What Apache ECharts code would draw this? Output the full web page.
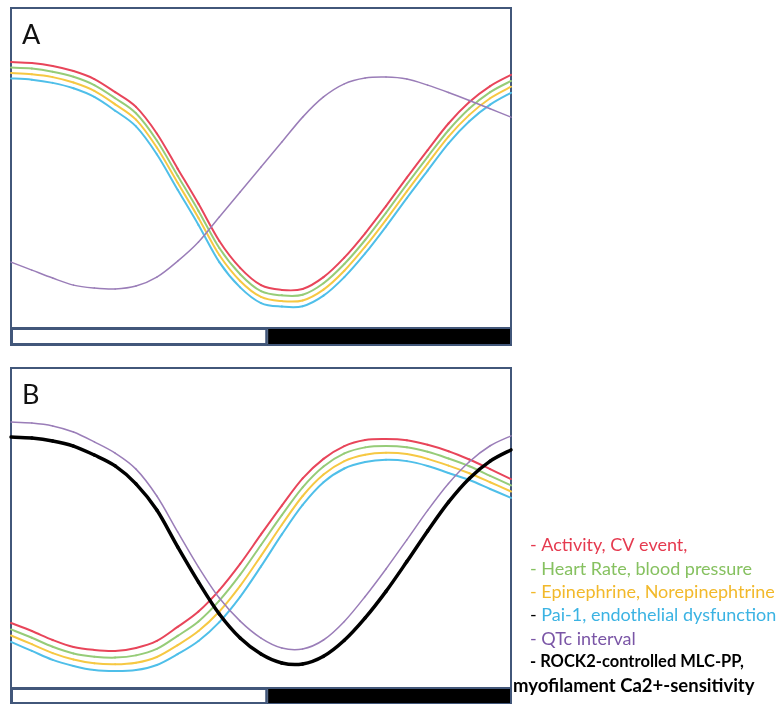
<!DOCTYPE html>
<html>
<head>
<meta charset="utf-8">
<script src="https://cdn.jsdelivr.net/npm/echarts@6/dist/echarts.min.js"></script>
<style>
html,body{margin:0;padding:0;background:#fff;}
#chart{width:780px;height:704px;}
</style>
</head>
<body>
<div id="chart"></div>
<script>
// Time of day (hours) sampled along the x axis
var hours = [0,1,2,3,4,5,6,7,8,9,10,11,12,13,14,15,16,17,18,19,20,21,22,23,24];

// Light/dark bar (hours)
var dayLength = 12.3;
var nightLength = 11.7;

// Panel A (relative level 0-100)
var aActivity    = [83.1,82.8,81.9,80.3,77.8,73.7,69.1,60.8,49.8,38.8,27.2,18.8,13.4,11.9,12.2,15.9,22.0,29.6,38.1,47.0,55.6,63.9,70.6,75.6,79.1];
var aHeartRate   = [81.4,81.1,80.1,78.5,75.9,71.8,67.1,58.6,47.6,36.6,25.0,16.8,11.5,10.2,10.4,14.0,20.0,27.5,36.0,44.9,53.5,61.8,68.6,73.7,77.2];
var aEpinephrine = [79.7,79.3,78.4,76.7,74.1,69.9,65.1,56.4,45.4,34.4,22.8,14.7,9.7,8.4,8.6,12.0,17.9,25.4,33.8,42.7,51.4,59.8,66.6,71.8,75.4];
var aPai1        = [78.0,77.6,76.6,74.9,72.2,67.9,63.0,54.3,43.2,32.2,20.6,12.7,7.8,6.7,6.8,10.1,15.9,23.3,31.7,40.6,49.2,57.7,64.6,69.8,73.5];
var aQTc         = [20.6,18.1,15.6,13.4,12.5,12.2,13.1,15.9,20.9,26.9,34.7,42.5,50.3,58.1,65.9,72.2,76.3,78.1,78.4,77.8,75.9,73.6,71.1,68.5,65.9];

// Panel B
var bActivity    = [20.3,17.8,15.0,12.8,11.9,11.6,12.5,14.7,19.1,23.9,30.6,38.8,48.0,57.0,65.5,71.6,75.6,77.5,77.8,77.4,76.0,74.0,71.4,68.4,65.3];
var bHeartRate   = [18.3,15.7,12.9,10.8,9.8,9.5,10.2,12.2,16.3,20.8,27.3,35.4,44.7,54.0,62.7,69.2,73.3,75.2,75.6,75.2,73.8,71.7,69.3,66.3,63.3];
var bEpinephrine = [16.4,13.7,10.9,8.9,7.7,7.4,7.9,9.7,13.4,17.8,23.9,31.9,41.3,51.0,60.0,66.7,70.9,72.9,73.5,73.1,71.6,69.5,67.1,64.3,61.4];
var bPai1        = [14.4,11.6,8.8,6.9,5.6,5.3,5.6,7.2,10.6,14.7,20.6,28.5,38.0,48.0,57.2,64.3,68.6,70.6,71.3,70.9,69.4,67.2,65.0,62.2,59.4];
var bQTc         = [83.1,82.8,81.9,80.0,76.9,73.4,68.4,60.0,48.8,37.8,28.1,20.9,15.6,12.5,12.2,15.0,20.8,28.6,37.2,46.3,55.5,63.9,70.7,75.7,78.8];
var bROCK2       = [78.4,78.1,77.2,75.6,72.8,69.4,63.8,55.6,44.1,33.1,23.1,15.6,10.6,7.8,7.5,9.9,14.9,21.9,30.2,39.5,49.1,58.1,65.5,70.9,74.4];

var C = {
  red:'#e8455a', green:'#96cc78', yellow:'#f6c843', blue:'#4fbfe9',
  purple:'#9a7db8', black:'#000000', frame:'#42577a'
};

function pairs(vals){ return hours.map(function(h,i){ return [h, vals[i]]; }); }

// Smooth curve through the data points (Catmull-Rom), positioned with the axes' scales
function line(name, vals, color, width, idx){
  return {
    type:'custom', name:name, data:pairs(vals), xAxisIndex:idx, yAxisIndex:idx,
    silent:true, z:3,
    renderItem:function(params, api){
      if (params.dataIndex !== 0) return null;
      var pts = vals.map(function(v,i){ return api.coord([hours[i], v]); });
      var n = pts.length, children = [];
      for (var i = 0; i < n - 1; i++){
        var p0 = pts[Math.max(i-1,0)], p1 = pts[i], p2 = pts[i+1], p3 = pts[Math.min(i+2,n-1)];
        children.push({
          type:'bezierCurve',
          shape:{
            x1:p1[0], y1:p1[1], x2:p2[0], y2:p2[1],
            cpx1:p1[0] + (p2[0]-p0[0])/6, cpy1:p1[1] + (p2[1]-p0[1])/6,
            cpx2:p2[0] - (p3[0]-p1[0])/6, cpy2:p2[1] - (p3[1]-p1[1])/6
          },
          style:{stroke:color, lineWidth:width, fill:null, lineCap:'round'}
        });
      }
      return {type:'group', children:children};
    }
  };
}
function bars(idx){
  return [
    {type:'bar', stack:'dn'+idx, data:[dayLength], xAxisIndex:idx, yAxisIndex:idx, barWidth:'100%', silent:true,
     itemStyle:{color:'#ffffff', borderColor:C.frame, borderWidth:2}},
    {type:'bar', stack:'dn'+idx, data:[nightLength], xAxisIndex:idx, yAxisIndex:idx, barWidth:'100%', silent:true,
     itemStyle:{color:'#000000', borderColor:C.frame, borderWidth:1}}
  ];
}

var gridCommon = {show:true, borderColor:C.frame, borderWidth:2, backgroundColor:'#fff', containLabel:false};
var grids = [
  Object.assign({left:11, top:8, width:500, height:320}, gridCommon),
  Object.assign({left:11, top:328, width:500, height:17}, gridCommon),
  Object.assign({left:11, top:368, width:500, height:320}, gridCommon),
  Object.assign({left:11, top:688, width:500, height:17}, gridCommon)
];
var hidden = {show:false};
var xAxes = [0,1,2,3].map(function(i){
  return {type:'value', gridIndex:i, min:0, max:24, axisLine:hidden, axisTick:hidden, axisLabel:hidden, splitLine:hidden};
});
var yAxes = [
  {type:'value', gridIndex:0, min:0, max:100, axisLine:hidden, axisTick:hidden, axisLabel:hidden, splitLine:hidden},
  {type:'category', gridIndex:1, data:['light'], axisLine:hidden, axisTick:hidden, axisLabel:hidden, splitLine:hidden},
  {type:'value', gridIndex:2, min:0, max:100, axisLine:hidden, axisTick:hidden, axisLabel:hidden, splitLine:hidden},
  {type:'category', gridIndex:3, data:['light'], axisLine:hidden, axisTick:hidden, axisLabel:hidden, splitLine:hidden}
];

var FONT = 'Lato, "Open Sans", sans-serif';
var rs = function(color, bold, size){ return {color:color, fontSize:size || 18, lineHeight:23.3, fontFamily:FONT, fontWeight: bold ? 'bold' : 'normal'}; };

var option = {
  animation:false,
  backgroundColor:'#ffffff',
  grid:grids, xAxis:xAxes, yAxis:yAxes,
  title:[
    {text:'A', left:22, top:22, padding:0, textStyle:{fontSize:27, fontWeight:'normal', color:'#111', fontFamily:FONT}},
    {text:'B', left:22, top:382, padding:0, textStyle:{fontSize:27, fontWeight:'normal', color:'#111', fontFamily:FONT}},
    {left:530, top:534, padding:0,
     text:'{r|- Activity, CV event,}\n{g|- Heart Rate, blood pressure}\n{y|- Epinephrine, Norepinephtrine}\n{k|- }{b|Pai-1, endothelial dysfunction}\n{p|- QTc interval}\n{kb|- ROCK2-controlled MLC-PP,}',
     textStyle:{rich:{
       r:rs('#e53a4f'), g:rs('#86c160'), y:rs('#f2b92b'), k:rs('#000'), b:rs('#3bb3e3'), p:rs('#7a55a6'), kb:rs('#000', true, 16.5)
     }}},
    {left:513, top:674, padding:0, text:'myofilament Ca2+-sensitivity',
     textStyle:{fontSize:18.5, lineHeight:23.3, fontFamily:FONT, fontWeight:'bold', color:'#000'}}
  ],
  series:[
    line('Activity, CV event', aActivity, C.red, 2, 0),
    line('Heart Rate, blood pressure', aHeartRate, C.green, 2, 0),
    line('Epinephrine, Norepinephrine', aEpinephrine, C.yellow, 2, 0),
    line('Pai-1, endothelial dysfunction', aPai1, C.blue, 2, 0),
    line('QTc interval', aQTc, C.purple, 1.5, 0),
    line('Activity, CV event', bActivity, C.red, 2, 2),
    line('Heart Rate, blood pressure', bHeartRate, C.green, 2, 2),
    line('Epinephrine, Norepinephrine', bEpinephrine, C.yellow, 2, 2),
    line('Pai-1, endothelial dysfunction', bPai1, C.blue, 2, 2),
    line('QTc interval', bQTc, C.purple, 1.5, 2),
    line('ROCK2-controlled MLC-PP', bROCK2, C.black, 3.5, 2)
  ].concat(bars(1)).concat(bars(3))
};

var chart = echarts.init(document.getElementById('chart'), null, {renderer:'canvas'});
chart.setOption(option);
</script>
</body>
</html>
